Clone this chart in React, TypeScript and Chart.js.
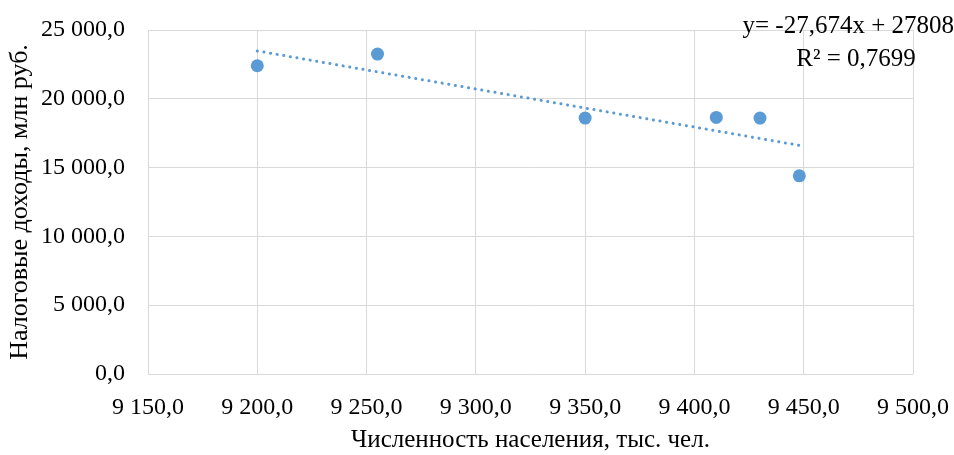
import React, { useEffect, useRef } from "react";
import { Chart, registerables } from "chart.js";

Chart.register(...registerables);

const populationX = [9200, 9255, 9350, 9410, 9430, 9448];
const taxIncomeY = [22400, 23250, 18600, 18650, 18600, 14400];
const trendSlope = -27.674;
const trendIntercept = 278080;
const xTickLabels = ["9 150,0", "9 200,0", "9 250,0", "9 300,0", "9 350,0", "9 400,0", "9 450,0", "9 500,0"];
const yTickLabels = ["0,0", "5 000,0", "10 000,0", "15 000,0", "20 000,0", "25 000,0"];
const xAxisTitle = "Численность населения, тыс. чел.";
const yAxisTitle = "Налоговые доходы, млн руб.";
const equationText = "y= -27,674x + 27808";
const r2Text = "R² = 0,7699";

const SERIF = '"Liberation Serif", "Times New Roman", serif';
const BLUE = "#5B9BD5";
const GRID = "#D9D9D9";

const equationPlugin = {
  id: "equationLabel",
  afterDraw(chart: any) {
    const ctx = chart.ctx;
    ctx.save();
    ctx.fillStyle = "#000";
    ctx.font = `25px ${SERIF}`;
    ctx.textBaseline = "alphabetic";
    ctx.textAlign = "right";
    ctx.fillText(equationText, 954, 33);
    ctx.textAlign = "center";
    ctx.fillText(r2Text, 856, 66);
    ctx.restore();
  },
};

export default function App() {
  const ref = useRef<HTMLCanvasElement>(null);

  useEffect(() => {
    if (!ref.current) return;
    const xMin = Math.min(...populationX);
    const xMax = Math.max(...populationX);
    const chart = new Chart(ref.current, {
      type: "scatter",
      data: {
        datasets: [
          {
            label: "points",
            data: populationX.map((x, i) => ({ x, y: taxIncomeY[i] })),
            backgroundColor: BLUE,
            borderColor: BLUE,
            pointRadius: 6.5,
            pointBorderWidth: 0,
            showLine: false,
          },
          {
            label: "trend",
            type: "line",
            data: [
              { x: xMin, y: trendSlope * xMin + trendIntercept },
              { x: xMax, y: trendSlope * xMax + trendIntercept },
            ],
            borderColor: BLUE,
            borderWidth: 3,
            borderDash: [0.1, 6.6],
            borderCapStyle: "round",
            pointRadius: 0,
            fill: false,
          } as any,
        ],
      },
      options: {
        animation: false,
        responsive: false,
        devicePixelRatio: 1,
        layout: { padding: { top: 30, right: 41, left: 0, bottom: 0 } },
        plugins: {
          legend: { display: false },
          tooltip: { enabled: false },
        },
        scales: {
          x: {
            type: "linear",
            min: 9150,
            max: 9500,
            ticks: {
              stepSize: 50,
              color: "#000",
              font: { family: SERIF, size: 24, lineHeight: 1 },
              padding: 22,
              maxRotation: 0,
              callback: (_v: any, i: number) => xTickLabels[i],
            },
            grid: { color: GRID, lineWidth: 1, drawTicks: false },
            border: { display: false },
            title: {
              display: true,
              text: xAxisTitle,
              color: "#000",
              font: { family: SERIF, size: 25, lineHeight: 1 },
              padding: { top: 0, bottom: 2.5 },
            },
            afterFit: (s: any) => {
              s.height = 81;
              s.paddingLeft = 0;
              s.paddingRight = 0;
            },
          },
          y: {
            type: "linear",
            min: 0,
            max: 25000,
            ticks: {
              stepSize: 5000,
              color: "#000",
              font: { family: SERIF, size: 24, lineHeight: 1 },
              padding: 23,
              callback: (_v: any, i: number) => yTickLabels[i],
            },
            grid: { color: GRID, lineWidth: 1, drawTicks: false },
            border: { display: false },
            title: {
              display: true,
              text: yAxisTitle,
              color: "#000",
              font: { family: SERIF, size: 26, lineHeight: 1 },
              padding: { top: 7, bottom: 0 },
            },
            afterFit: (s: any) => {
              s.width = 148;
              s.paddingTop = 0;
              s.paddingBottom = 0;
            },
          },
        },
      },
      plugins: [equationPlugin],
    } as any);
    return () => chart.destroy();
  }, []);

  return (
    <div style={{ position: "absolute", left: 0, top: 0, width: 954, height: 455, background: "#fff" }}>
      <canvas ref={ref} width={954} height={455} style={{ display: "block" }} />
    </div>
  );
}
